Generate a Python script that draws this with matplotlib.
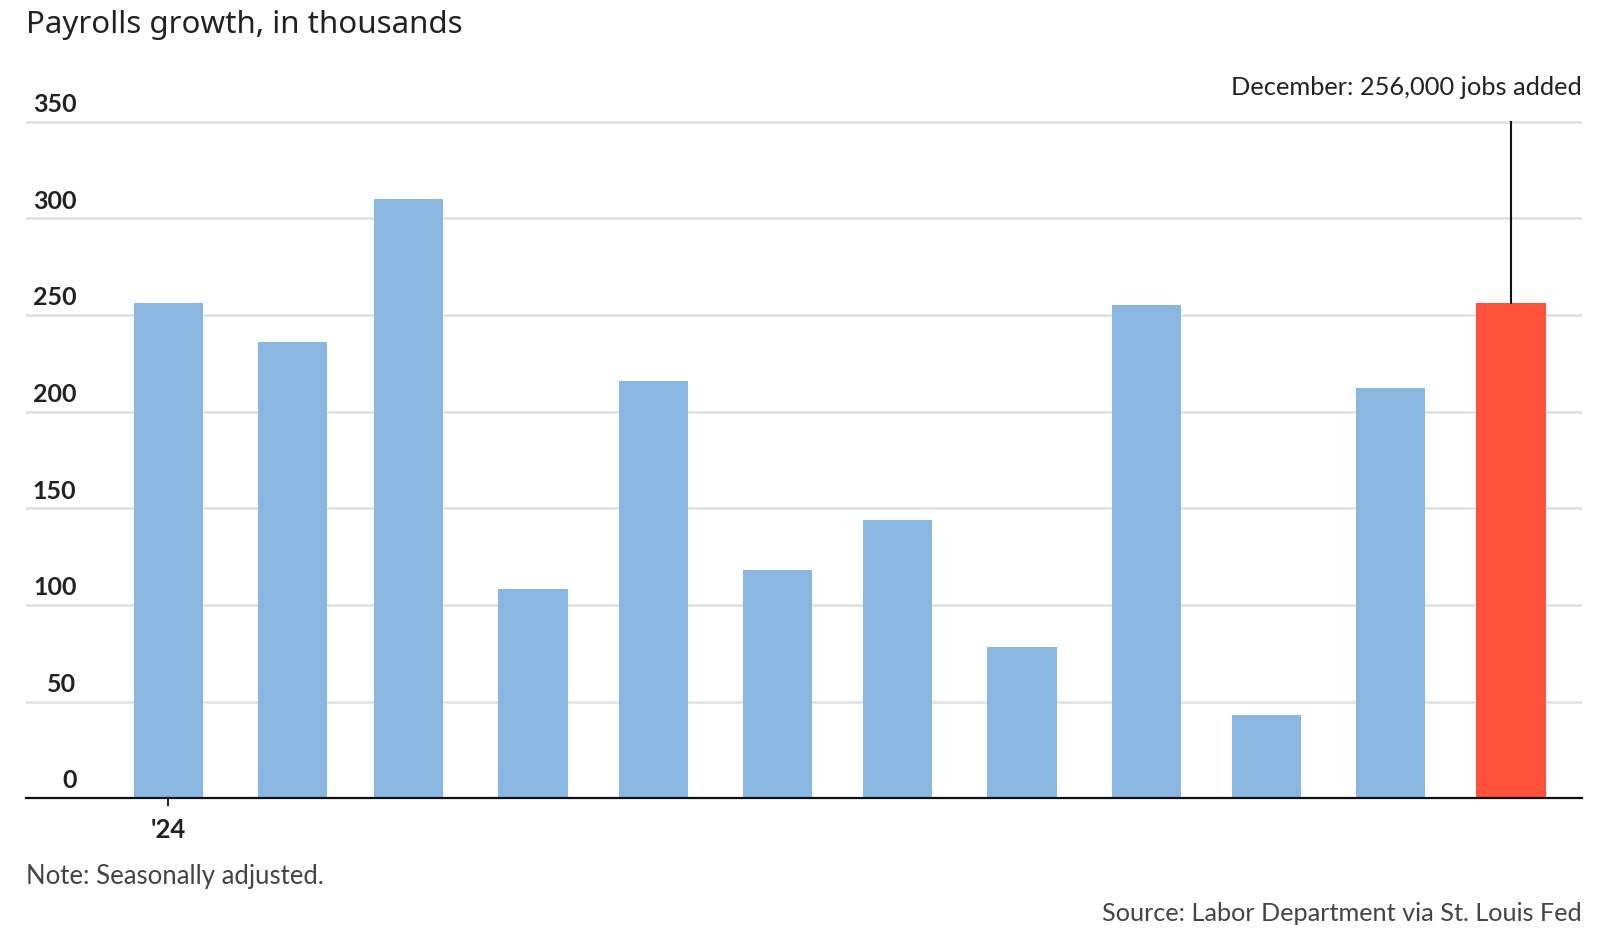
import matplotlib
matplotlib.use("Agg")
import matplotlib.pyplot as plt
import matplotlib.transforms as mtransforms
import pandas as pd

plt.rcParams['font.family'] = ['Lato', 'DejaVu Sans']

# monthly payroll change, thousands (2024)
months = pd.date_range('2024-01-01', periods=12, freq='MS')
payrolls = [256, 236, 310, 108, 216, 118, 144, 78, 255, 43, 212, 256]
highlight = 11  # December
yticks = [0, 50, 100, 150, 200, 250, 300, 350]

blue = '#8ab7e1'
red = '#ff523d'

fig = plt.figure(figsize=(16, 9.41), dpi=100)
ax = fig.add_axes([0.01594, 0.1518, 0.97258, 0.8913 - 0.1518])

colors = [red if i == highlight else blue for i in range(len(payrolls))]
ax.bar(months, payrolls, width=17.3, color=colors, zorder=3)

ax.set_ylim(0, 360)
ax.set_xlim(pd.Timestamp('2024-01-01') - pd.Timedelta(days=35.6),
            pd.Timestamp('2024-12-01') + pd.Timedelta(days=17.6))

ax.set_yticks(yticks[1:])
ax.yaxis.grid(True, color='#e2e2e2', linewidth=2, zorder=0)
ax.tick_params(axis='y', left=False, labelleft=False)

for s in ['top', 'right', 'left']:
    ax.spines[s].set_visible(False)
ax.spines['bottom'].set_linewidth(1.6)
ax.spines['bottom'].set_color('#111111')
ax.spines['bottom'].set_zorder(4)

# y labels sit above the gridlines
trans = mtransforms.blended_transform_factory(ax.transAxes, ax.transData)
for v in yticks:
    ax.text(0.0328, v + 5, str(v), transform=trans, ha='right', va='baseline',
            fontsize=18, fontweight='bold', color='#222222')

ax.set_xticks([months[0]])
ax.set_xticklabels(["'24"])
ax.tick_params(axis='x', length=6, width=1.3, color='#111111', pad=8.5,
               labelsize=18.5, labelcolor='#222222')
for lbl in ax.get_xticklabels():
    lbl.set_fontweight('bold')

# December callout
ax.plot([months[highlight], months[highlight]], [350, payrolls[highlight]],
        color='#111111', linewidth=1.5, zorder=4)
fig.text(0.98852, 1 - 95 / 941, 'December: 256,000 jobs added', ha='right',
         va='baseline', fontsize=18.3, color='#222222')

fig.text(0.01594, 1 - 32.5 / 941, 'Payrolls growth, in thousands', ha='left',
         va='baseline', fontsize=22.5, color='#222222', family=['Noto Sans', 'DejaVu Sans'])
fig.text(0.01594, 1 - 884 / 941, 'Note: Seasonally adjusted.', ha='left',
         va='baseline', fontsize=18.5, color='#444444')
fig.text(0.98852, 1 - 921 / 941, 'Source: Labor Department via St. Louis Fed',
         ha='right', va='baseline', fontsize=18.2, color='#444444')

fig.savefig('out.png', dpi=100)
